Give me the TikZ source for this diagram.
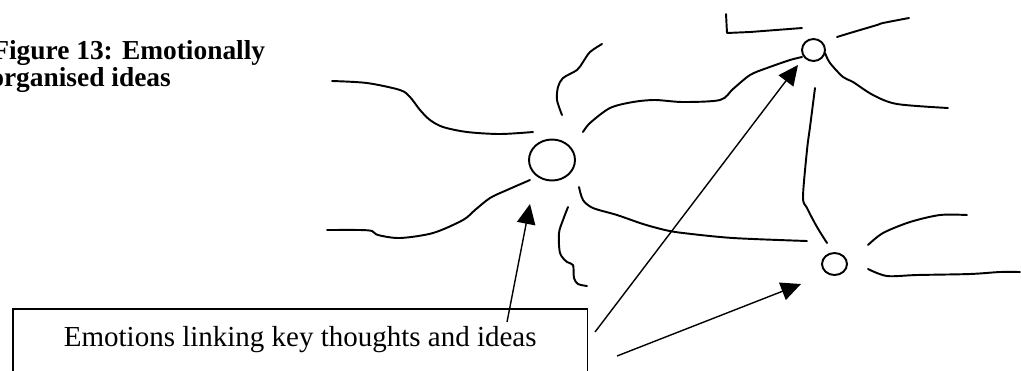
\documentclass[tikz,border=0pt]{standalone}
\usepackage{fontspec}
\setmainfont{Liberation Serif}
\usetikzlibrary{arrows.meta,positioning,shapes.geometric}

\begin{document}
\begin{tikzpicture}[x=0.02cm, y=-0.02cm,
    idea/.style={ellipse, draw, line width=1.1pt, inner sep=0pt},
    strand/.style={line width=1.1pt, line cap=round, line join=round},
    flow/.style={-{Triangle[length=4mm, width=3.7mm]}, line width=0.8pt},
    caption/.style={font=\bfseries\fontsize{15.6}{15.6}\selectfont,
        anchor=base west, inner sep=0pt}
]
\useasboundingbox (0,0) rectangle (1021,370);
\clip (0,0) rectangle (1021,370);
\node[caption] (title) at (-8,59) {Figure 13: Emotionally};
\node[caption] (titleb) at (-10,86) {organised ideas};
\node[idea, minimum width=0.92cm, minimum height=0.82cm] (hub) at (552,160) {};
\node[idea, minimum width=0.46cm, minimum height=0.44cm] (ntop) at (813.5,50) {};
\node[idea, minimum width=0.5cm, minimum height=0.44cm] (nbot) at (834.5,264) {};
\node[draw, line width=0.9pt, anchor=north west, minimum width=11.5cm,
    inner xsep=0pt, inner ysep=0pt, text height=0.76cm, text depth=0.8cm,
    font=\fontsize{16.5}{18}\selectfont] (box) at (12,308)
    {Emotions linking key thoughts and ideas};
\draw[strand] plot[smooth, tension=0.5] coordinates {(332,81) (367,83) (400,90)
    (410,97) (420,110) (430,120) (443,127) (467,132) (500,134) (533,132)};
\draw[strand] plot[smooth, tension=0.5] coordinates {(602,44) (590,52) (583,62)
    (577,70) (563,78) (558,87) (557,100) (562,115)};
\draw[strand] plot[smooth, tension=0.5] coordinates {(583,132) (590,123) (610,108)
    (633,102) (655,100) (683,102) (720,100) (733,89) (750,75) (767,68) (790,60) (802,57)};
\draw[strand] plot[smooth, tension=0.5] coordinates {(327,230) (360,230) (372,231)
    (378,235) (400,238) (433,233) (463,220) (475,210) (490,198) (507,190) (530,180)};
\draw[strand] plot[smooth, tension=0.5] coordinates {(568,207) (563,220) (559,233)
    (560,253) (567,262) (573,265) (574,278) (578,284) (587,286)};
\draw[strand] plot[smooth, tension=0.5] coordinates {(579,187) (583,200) (593,208)
    (617,215) (643,224) (665,230) (683,233) (733,238) (807,241)};
\draw[strand] (726,14) -- (727,33) -- (750,32) -- (802,28);
\draw[strand] plot[smooth, tension=0.5] coordinates {(837,37) (850,33) (877,25)
    (883,23) (909,18)};
\draw[strand] plot[smooth, tension=0.5] coordinates {(825,53) (830,63) (843,77)
    (853,82) (873,95) (897,104) (948,108)};
\draw[strand] plot[smooth, tension=0.5] coordinates {(815,88) (810,127) (807,150)
    (803,197) (807,208) (817,227) (827,243)};
\draw[strand] plot[smooth, tension=0.5] coordinates {(868,245) (883,233) (910,222)
    (940,215) (967,215)};
\draw[strand] plot[smooth, tension=0.5] coordinates {(868,269) (887,276) (917,275)
    (970,274) (1000,272) (1020,272)};
\coordinate (hubtip) at (530,204);
\coordinate (toptip) at (798,65);
\coordinate (bottip) at (801,284);
\coordinate (fromtop) at (595,332);
\coordinate (fromlow) at (617,356);
\draw[flow] (box.north -| 507,322) ++(0,14) -- (hubtip);
\draw[flow] (fromtop) -- (toptip);
\draw[flow] (fromlow) -- (bottip);
\end{tikzpicture}
\end{document}
